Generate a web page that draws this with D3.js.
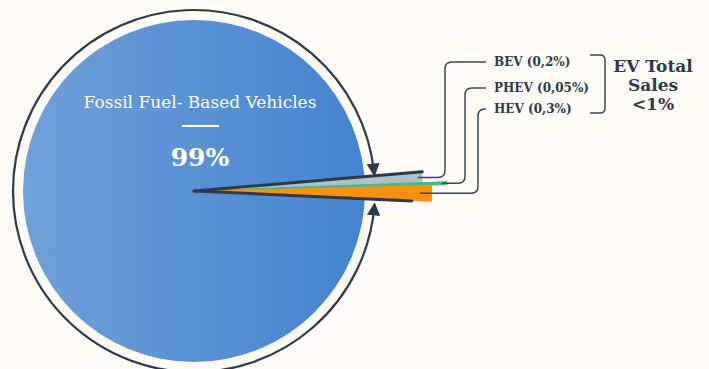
<!DOCTYPE html>
<html>
<head>
<meta charset="utf-8">
<script src="https://cdn.jsdelivr.net/npm/d3@7"></script>
<style>
  body { margin: 0; background: #fdfaf5; }
  svg { display: block; }
</style>
</head>
<body>
<script>
// Data
const categories = ["Fossil Fuel- Based Vehicles", "BEV", "PHEV", "HEV"];
const shares = [99, 0.2, 0.05, 0.3];
const shareLabels = ["99%", "0,2%", "0,05%", "0,3%"];
const totalLabel = ["EV Total", "Sales", "<1%"];

// Dimensions
let width = 709;
let height = 369;
let cx = 194;
let cy = 191;
let radius = 171;
let ringRadius = 181;
let dark = "#2c3a4a";
let deg = Math.PI / 180;

let svg = d3
  .select("body")
  .append("svg")
  .attr("width", width)
  .attr("height", height)
  .style("background", "#fdfaf5");

let defs = svg.append("defs");

let grad = defs
  .append("linearGradient")
  .attr("id", "blue")
  .attr("x1", "0%")
  .attr("x2", "100%");
grad.append("stop").attr("offset", "0%").attr("stop-color", "#6fa0d9");
grad.append("stop").attr("offset", "100%").attr("stop-color", "#4583cf");

defs
  .append("marker")
  .attr("id", "arrow")
  .attr("viewBox", "0 0 10 10")
  .attr("refX", 7)
  .attr("refY", 5)
  .attr("markerWidth", 6)
  .attr("markerHeight", 6)
  .attr("markerUnits", "strokeWidth")
  .attr("orient", "auto")
  .append("path")
  .attr("d", "M0,0 L10,5 L0,10 Z")
  .attr("fill", dark);

let g = svg.append("g").attr("transform", `translate(${cx}, ${cy})`);

// Fossil fuel disk (the 99% share)
g.append("circle")
  .attr("r", radius)
  .attr("fill", "url(#blue)");

// EV slices, magnified so they stay visible
let evData = categories.slice(1).map((c, i) => ({
  name: c,
  value: shares[i + 1],
  label: shareLabels[i + 1],
}));

let zoomSpan = 7.4 * deg;
let startAngle = (90 - 4.8) * deg;

let pie = d3
  .pie()
  .sort(null)
  .value((d) => d.value)
  .startAngle(startAngle)
  .endAngle(startAngle + zoomSpan);

let slices = pie(evData);

let sliceColor = ["#a9c3c6", "#4fb383", "#f5910f"];
let sliceOuter = [229, 253, 238];

let arc = d3.arc().innerRadius(0);

g.selectAll(".slice")
  .data(slices)
  .join("path")
  .attr("class", "slice")
  .attr("d", (d, i) => arc.outerRadius(sliceOuter[i])(d))
  .attr("fill", (d, i) => sliceColor[i])
  .attr("stroke", (d, i) => (i === 1 ? sliceColor[i] : "none"))
  .attr("stroke-width", 1);

// Dark edges along the outside of the EV group
let pt = (a, r) => [Math.sin(a) * r, -Math.cos(a) * r];
let first = slices[0];
let last = slices[slices.length - 1];

[
  [first.startAngle, 229],
  [last.endAngle, 218],
].forEach(([a, r]) => {
  let [x, y] = pt(a, r);
  g.append("line")
    .attr("x1", 0)
    .attr("y1", 0)
    .attr("x2", x)
    .attr("y2", y)
    .attr("stroke", dark)
    .attr("stroke-width", 3)
    .attr("stroke-linecap", "round");
});

// Outer ring with arrows pointing at the EV slices
let ringPath = (a0, a1, ccw) => {
  let p = d3.path();
  p.arc(0, 0, ringRadius, a0, a1, ccw);
  return p.toString();
};
// screen angles (0 = right, clockwise positive)
g.append("path")
  .attr("d", ringPath(Math.PI, 4.8 * deg, true))
  .attr("fill", "none")
  .attr("stroke", dark)
  .attr("stroke-width", 2.2)
  .attr("marker-end", "url(#arrow)");
g.append("path")
  .attr("d", ringPath(Math.PI, 354.2 * deg, false))
  .attr("fill", "none")
  .attr("stroke", dark)
  .attr("stroke-width", 2.2)
  .attr("marker-end", "url(#arrow)");

// Connectors and labels
let labelY = [62, 88, 109];
let elbowX = [445, 465, 478];
let startR = [224, 248, 226];
let labelX = 494;
let cr = 7;

slices.forEach((d, i) => {
  let mid = (d.startAngle + d.endAngle) / 2;
  let [sx, sy] = pt(mid, startR[i]);
  sx += cx;
  sy += cy;
  let ex = elbowX[i];
  let ly = labelY[i];
  let p = d3.path();
  p.moveTo(sx, sy);
  p.lineTo(ex - cr, sy);
  p.quadraticCurveTo(ex, sy, ex, sy - cr);
  p.lineTo(ex, ly + cr);
  p.quadraticCurveTo(ex, ly, ex + cr, ly);
  p.lineTo(labelX - 8, ly);
  svg
    .append("path")
    .attr("d", p.toString())
    .attr("fill", "none")
    .attr("stroke", "#3a4757")
    .attr("stroke-width", 1.5);

  svg
    .append("text")
    .attr("x", labelX)
    .attr("y", ly + 4)
    .text(`${d.data.name} (${d.data.label})`)
    .style("font-family", "DejaVu Serif")
    .style("font-weight", "bold")
    .style("font-size", "12px")
    .style("fill", dark);
});

// Bracket
let bx = 605;
let by0 = 55;
let by1 = 113;
let bp = d3.path();
bp.moveTo(590, by0);
bp.lineTo(bx - 5, by0);
bp.quadraticCurveTo(bx, by0, bx, by0 + 5);
bp.lineTo(bx, by1 - 5);
bp.quadraticCurveTo(bx, by1, bx - 5, by1);
bp.lineTo(590, by1);
svg
  .append("path")
  .attr("d", bp.toString())
  .attr("fill", "none")
  .attr("stroke", "#3a4757")
  .attr("stroke-width", 1.5);

svg
  .append("text")
  .attr("x", 653)
  .attr("y", 72)
  .style("font-family", "DejaVu Serif")
  .style("font-weight", "bold")
  .style("font-size", "17px")
  .style("fill", dark)
  .style("text-anchor", "middle")
  .selectAll("tspan")
  .data(totalLabel)
  .join("tspan")
  .attr("x", 653)
  .attr("dy", (d, i) => (i === 0 ? 0 : 19))
  .text((d) => d);

// Fossil fuel title inside the disk
svg
  .append("text")
  .attr("x", 200)
  .attr("y", 108)
  .text(categories[0])
  .style("font-family", "DejaVu Serif")
  .style("font-size", "17px")
  .style("fill", "#ffffff")
  .style("text-anchor", "middle");

svg
  .append("line")
  .attr("x1", 182)
  .attr("x2", 219)
  .attr("y1", 126)
  .attr("y2", 126)
  .attr("stroke", "#ffffff")
  .attr("stroke-width", 2);

svg
  .append("text")
  .attr("x", 200)
  .attr("y", 166)
  .text(shareLabels[0])
  .style("font-family", "DejaVu Serif")
  .style("font-weight", "bold")
  .style("font-size", "25px")
  .style("fill", "#ffffff")
  .style("text-anchor", "middle");
</script>
</body>
</html>
